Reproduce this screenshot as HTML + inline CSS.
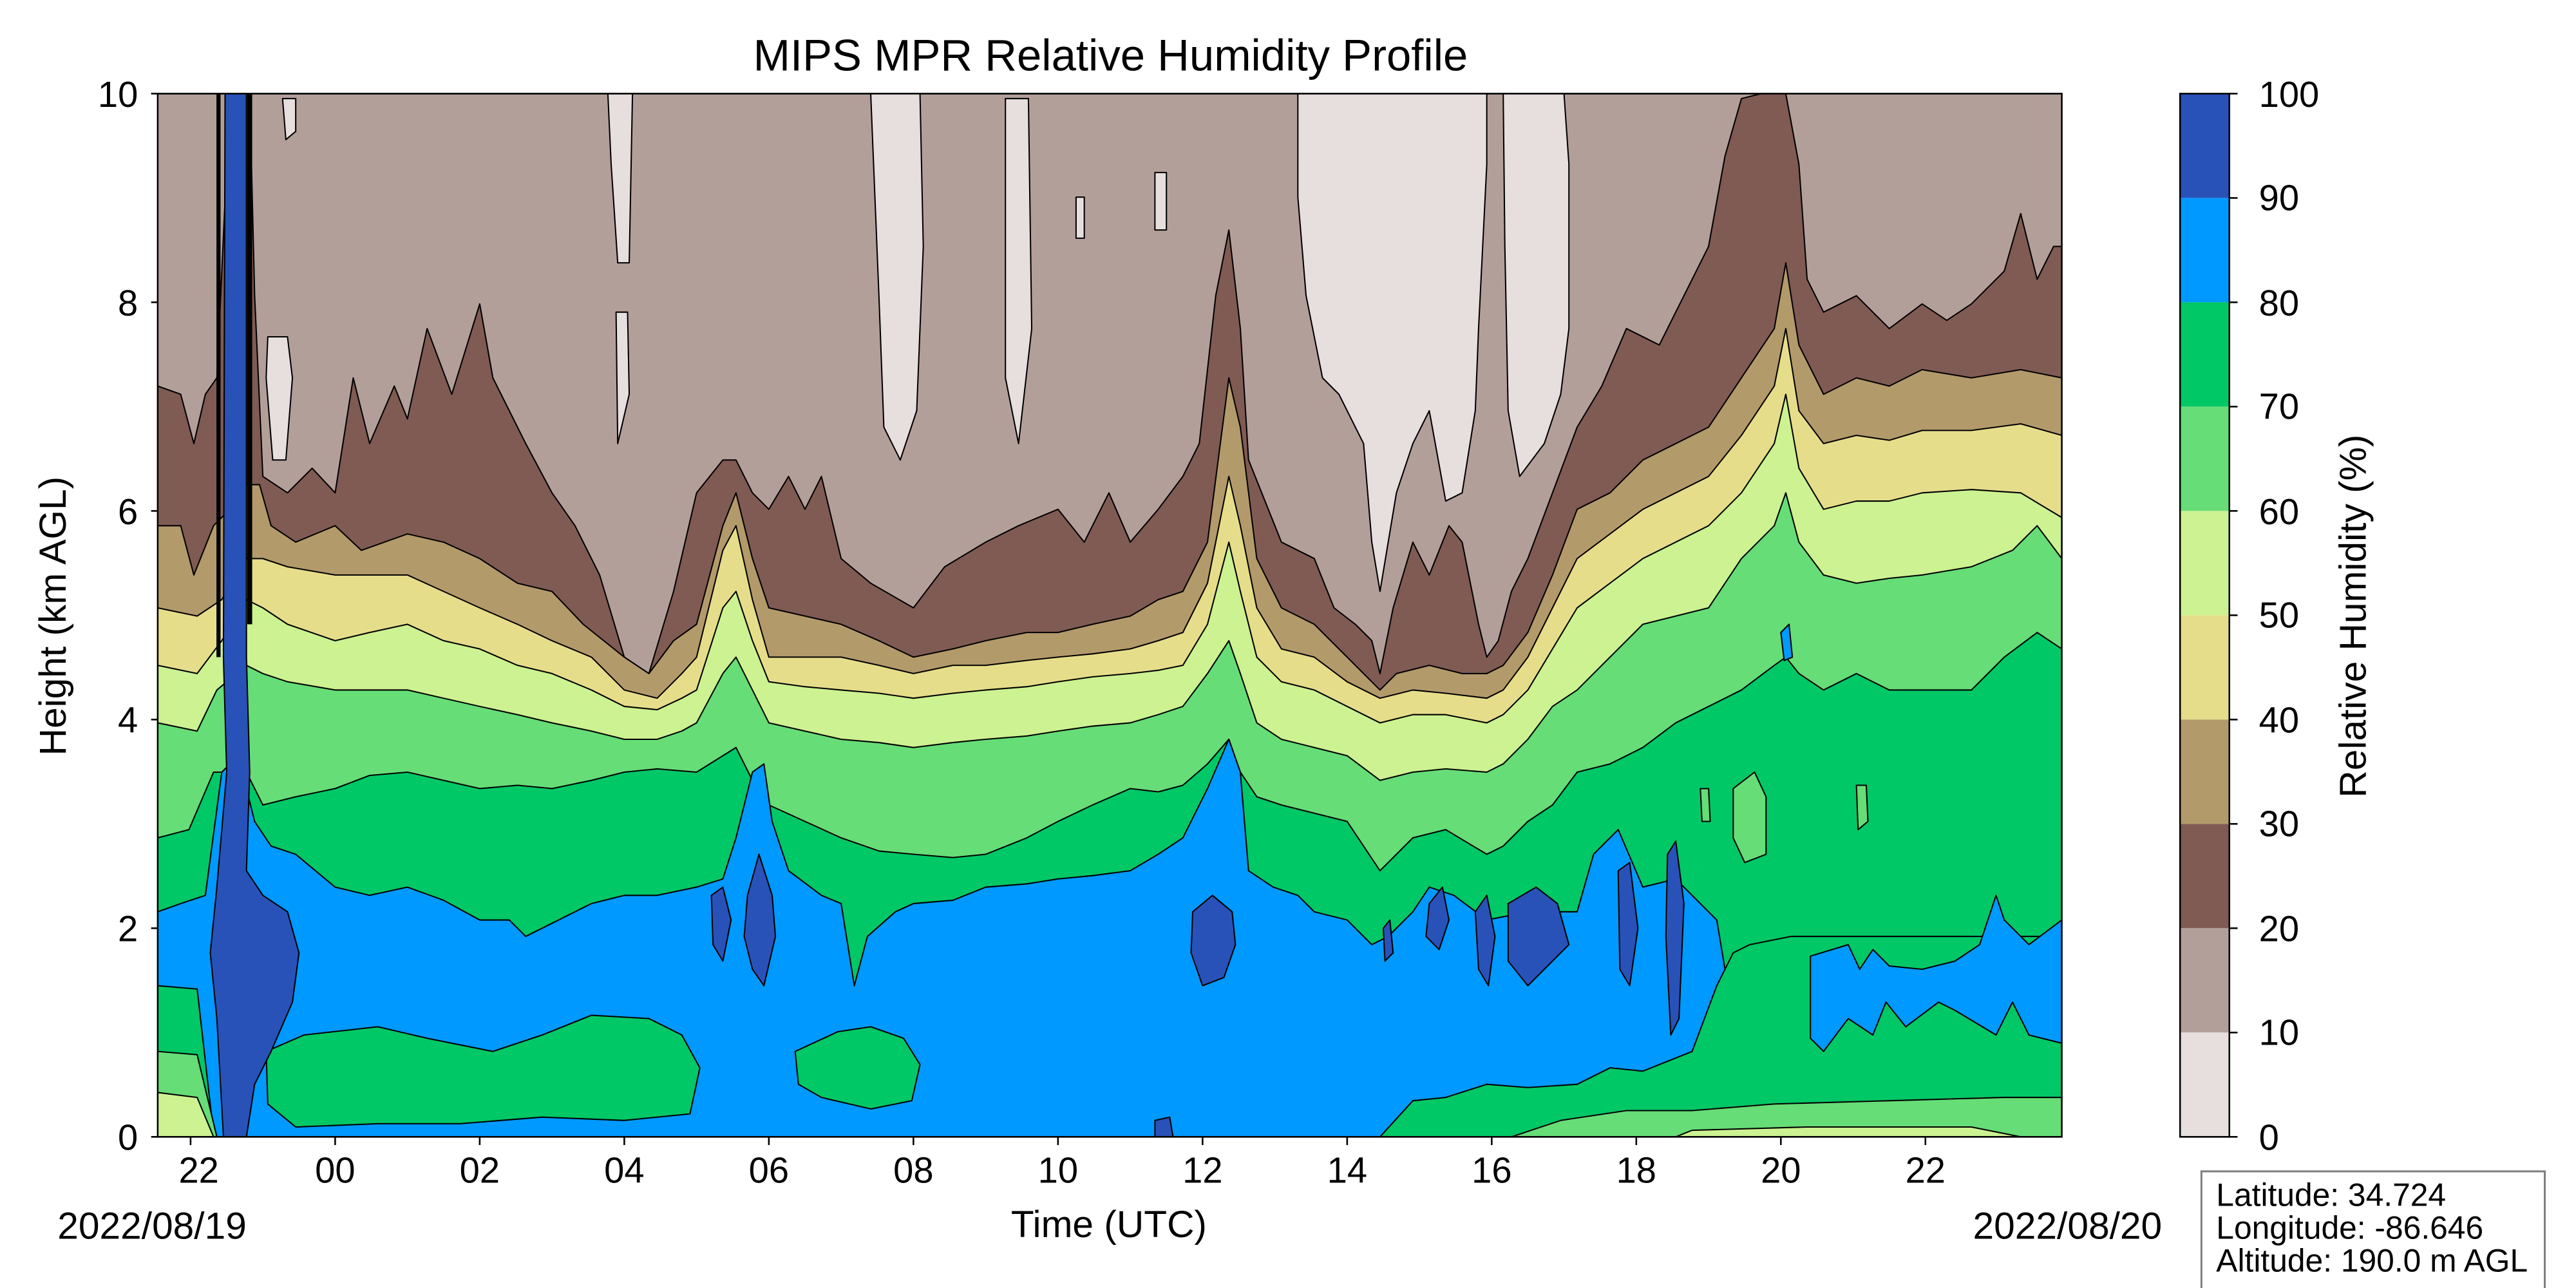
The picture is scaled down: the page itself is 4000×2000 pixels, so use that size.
<!DOCTYPE html>
<html><head><meta charset="utf-8"><style>
html,body{margin:0;padding:0;background:#fff}
svg{display:block}
text{font-family:"Liberation Sans","DejaVu Sans",sans-serif;fill:#000}
</style></head><body>
<svg width="4000" height="2000" viewBox="0 0 1568 784" xmlns="http://www.w3.org/2000/svg">
<defs><clipPath id="c"><rect x="96" y="57" width="1159" height="635"/></clipPath></defs>
<g clip-path="url(#c)" stroke="#000" stroke-width="0.8" stroke-linejoin="round">
<rect x="96" y="57" width="1159" height="635" fill="#b39f9a" stroke="none"/>
<polygon fill="#e6dfde" points="790,57 905,57 905,100 900,200 898,250 890,300 880,305 870,250 860,270 850,300 845,330 840,360 835,330 830,270 815,240 805,230 795,180 790,120"/>
<polygon fill="#e6dfde" points="915,57 952,57 955,100 955,200 950,240 940,270 925,290 918,250 916,150"/>
<polygon fill="#e6dfde" points="530,57 560,57 562,150 558,250 548,280 538,260 535,180"/>
<polygon fill="#e6dfde" points="612,60 626,60 628,200 620,270 612,230"/>
<polygon fill="#e6dfde" points="370,57 385,57 383,160 376,160 372,100"/>
<polygon fill="#e6dfde" points="163,205 175,205 178,230 174,280 166,280 162,230"/>
<polygon fill="#e6dfde" points="172,60 180,60 180,80 174,85"/>
<polygon fill="#e6dfde" points="655,120 660,120 660,145 655,145"/>
<polygon fill="#e6dfde" points="703,105 710,105 710,140 703,140"/>
<polygon fill="#e6dfde" points="375,190 382,190 383,240 376,270"/>
<polygon fill="#7f5b53" points="96,235 110,240 118,270 125,240 132,230 140,57 152,57 155,180 160,290 175,300 190,285 204,300 215,230 225,270 240,235 248,255 260,200 275,240 292,185 300,230 320,270 336,300 350,320 365,350 380,400 395,410 410,360 424,300 440,280 448,280 458,300 468,310 480,290 490,310 500,290 512,340 530,355 556,370 575,345 600,330 620,320 644,310 660,330 675,300 688,330 705,310 720,290 730,270 740,180 748,140 755,200 760,280 780,330 800,340 812,370 825,380 835,390 840,410 848,370 860,330 870,350 882,320 890,330 900,380 905,400 912,390 920,360 930,340 945,300 960,260 975,235 990,200 1010,210 1025,180 1040,150 1050,95 1060,60 1072,57 1080,57 1087,57 1095,100 1100,170 1110,190 1130,180 1150,200 1170,185 1185,195 1200,185 1220,165 1230,130 1240,170 1250,150 1255,150 1255,692 96,692"/>
<polygon fill="#b39a6a" points="96,320 110,320 118,350 130,320 140,310 150,295 158,295 165,320 180,330 204,320 220,335 248,325 270,330 292,340 315,355 336,360 355,380 380,400 395,410 410,390 424,380 440,320 448,300 458,340 468,370 490,375 512,380 535,390 556,400 580,395 600,390 625,385 644,385 665,380 688,375 705,365 720,360 735,330 748,230 755,260 765,340 780,370 800,380 820,400 835,415 840,420 850,410 870,405 890,410 905,410 915,405 930,385 945,350 960,310 980,300 1000,280 1020,270 1040,260 1060,230 1080,200 1087,160 1095,210 1110,240 1130,230 1150,235 1170,225 1200,230 1230,225 1255,230 1255,692 96,692"/>
<polygon fill="#e6dd8b" points="96,370 120,375 135,365 150,340 160,340 175,345 204,350 225,350 248,350 270,360 292,370 315,380 336,390 360,400 380,420 400,425 415,410 424,400 440,335 448,320 458,365 468,400 490,400 512,400 535,405 556,410 580,405 600,405 625,402 644,400 665,398 688,395 705,390 720,385 735,355 748,290 755,320 765,370 780,395 800,400 820,415 840,425 860,420 880,422 905,425 915,420 930,400 945,370 960,340 980,325 1000,310 1020,300 1040,290 1060,265 1080,235 1087,200 1095,250 1110,270 1130,265 1150,268 1170,262 1200,262 1230,258 1255,265 1255,692 96,692"/>
<polygon fill="#ccf291" points="96,405 120,410 135,390 150,365 160,370 175,380 204,390 225,385 248,380 270,390 292,395 315,405 336,410 360,420 380,430 400,432 415,425 424,420 440,370 448,360 458,390 468,415 490,418 512,420 535,422 556,425 580,422 600,420 625,418 644,415 665,412 688,410 705,408 720,405 735,380 748,330 755,360 765,400 780,415 800,420 820,430 840,440 860,435 880,435 905,440 915,435 930,420 945,395 960,370 980,355 1000,340 1020,330 1040,320 1060,300 1080,270 1087,240 1095,285 1110,310 1130,305 1150,305 1170,300 1200,298 1230,300 1255,315 1255,692 96,692"/>
<polygon fill="#66dd77" points="96,440 120,445 132,420 150,405 160,410 175,415 204,420 225,420 248,420 270,425 292,430 315,435 336,440 360,445 380,450 400,450 415,445 424,440 440,410 448,400 458,420 468,440 490,445 512,450 535,452 556,455 580,452 600,450 625,448 644,445 665,442 688,440 705,435 720,430 735,410 748,390 755,410 765,440 780,450 800,455 820,460 840,475 860,470 880,468 905,470 915,465 930,450 945,430 960,420 980,400 1000,380 1020,375 1040,370 1060,340 1080,320 1087,300 1095,330 1110,350 1130,355 1150,352 1170,350 1200,345 1225,335 1240,320 1255,340 1255,692 96,692"/>
<polygon fill="#00c866" points="96,510 115,505 130,470 150,470 160,490 180,485 204,480 225,472 248,470 270,475 292,480 315,478 336,480 360,475 380,470 400,468 424,470 440,460 448,455 458,475 468,490 490,500 512,510 535,518 556,520 580,522 600,520 625,510 644,500 665,490 688,480 705,482 720,478 735,465 748,450 755,470 765,485 780,490 800,495 820,500 840,530 860,510 880,505 905,520 915,515 930,500 945,490 960,470 980,465 1000,455 1020,440 1040,430 1060,420 1080,405 1087,400 1095,410 1110,420 1130,410 1150,420 1170,420 1200,420 1220,400 1240,385 1255,395 1255,692 96,692"/>
<polygon fill="#0099ff" points="96,555 110,550 125,545 135,470 145,460 155,500 165,515 180,520 204,540 225,545 248,540 270,548 292,560 310,560 320,570 336,562 360,550 380,545 400,545 424,540 440,535 448,510 458,470 465,465 470,500 480,530 500,545 512,550 520,600 528,570 545,555 556,550 580,548 600,540 625,538 644,535 665,533 688,530 705,520 720,510 735,480 748,450 755,470 760,530 775,540 790,545 800,555 820,560 835,575 845,570 860,555 870,540 885,545 905,560 930,555 960,555 970,520 985,505 1000,540 1020,535 1035,550 1045,560 1050,590 1050,692 96,692"/>
<polygon fill="#00c866" points="96,600 120,602 130,690 96,692"/>
<polygon fill="#66dd77" points="96,640 120,642 132,692 96,692"/>
<polygon fill="#ccf291" points="96,665 120,668 130,692 96,692"/>
<polygon fill="#00c866" points="162,640 185,630 230,625 260,632 300,640 330,630 360,618 395,620 415,630 426,650 420,678 380,682 330,680 280,684 230,684 180,686 163,672"/>
<polygon fill="#00c866" points="484,640 510,628 530,625 550,632 560,648 555,670 530,675 500,668 486,660"/>
<polygon fill="#00c866" points="840,692 860,670 880,668 905,660 930,662 960,660 980,650 1000,652 1030,640 1045,600 1055,580 1065,575 1090,570 1255,570 1255,692"/>
<polygon fill="#66dd77" points="920,692 950,682 990,676 1030,676 1080,672 1150,670 1220,668 1255,668 1255,692"/>
<polygon fill="#ccf291" points="1020,692 1030,688 1100,686 1200,686 1230,692"/>
<polygon fill="#0099ff" points="1102,582 1125,575 1132,590 1140,578 1150,588 1170,590 1190,585 1205,575 1215,545 1220,560 1235,575 1255,560 1255,635 1235,630 1225,610 1215,630 1190,615 1180,610 1160,625 1148,610 1140,630 1125,620 1110,640 1102,632"/>
<polygon fill="#66dd77" points="1055,480 1068,470 1075,485 1075,520 1062,525 1055,510"/>
<polygon fill="#66dd77" points="1035,480 1040,480 1041,500 1036,500"/>
<polygon fill="#66dd77" points="1130,478 1136,478 1137,500 1131,505"/>
<polygon fill="#2952b8" points="137,57 150,57 150,400 152,470 150,530 160,545 175,555 182,580 178,610 165,640 155,660 150,692 136,692 132,620 128,580 132,540 138,470 136,400"/>
<polygon fill="#2952b8" points="433,545 440,540 445,560 440,585 434,575"/>
<polygon fill="#2952b8" points="455,545 462,520 470,545 472,570 465,600 458,590 453,570"/>
<polygon fill="#2952b8" points="726,555 738,545 750,555 752,575 745,595 732,600 725,580"/>
<polygon fill="#2952b8" points="842,565 846,560 848,580 843,585"/>
<polygon fill="#2952b8" points="870,550 878,540 882,560 876,578 868,570"/>
<polygon fill="#2952b8" points="898,555 905,545 910,570 906,600 900,590"/>
<polygon fill="#2952b8" points="918,550 935,540 948,550 955,575 945,585 930,600 918,585"/>
<polygon fill="#2952b8" points="985,530 992,525 997,565 992,600 986,590"/>
<polygon fill="#2952b8" points="1015,520 1020,512 1025,550 1022,620 1017,630 1014,570"/>
<polygon fill="#2952b8" points="703,682 712,680 714,692 703,692"/>
<polygon fill="#0099ff" points="1084,385 1089,380 1091,400 1086,402"/>
<line x1="133" y1="57" x2="133" y2="400" stroke-width="2.5"/>
<line x1="152" y1="57" x2="152" y2="380" stroke-width="3"/>
</g>
<rect x="96" y="57" width="1159" height="635" fill="none" stroke="#000" stroke-width="1"/>
<g stroke="#000" stroke-width="1">
<line x1="92" y1="57" x2="96" y2="57"/><line x1="92" y1="184" x2="96" y2="184"/><line x1="92" y1="311" x2="96" y2="311"/><line x1="92" y1="438" x2="96" y2="438"/><line x1="92" y1="565" x2="96" y2="565"/><line x1="92" y1="692" x2="96" y2="692"/>
<line x1="116" y1="692" x2="116" y2="697"/><line x1="204" y1="692" x2="204" y2="697"/><line x1="292" y1="692" x2="292" y2="697"/><line x1="380" y1="692" x2="380" y2="697"/><line x1="468" y1="692" x2="468" y2="697"/><line x1="556" y1="692" x2="556" y2="697"/><line x1="644" y1="692" x2="644" y2="697"/><line x1="732" y1="692" x2="732" y2="697"/><line x1="820" y1="692" x2="820" y2="697"/><line x1="908" y1="692" x2="908" y2="697"/><line x1="996" y1="692" x2="996" y2="697"/><line x1="1084" y1="692" x2="1084" y2="697"/><line x1="1172" y1="692" x2="1172" y2="697"/>
</g>
<g font-size="22" text-anchor="end">
<text x="84" y="65">10</text><text x="84" y="192">8</text><text x="84" y="319">6</text><text x="84" y="446">4</text><text x="84" y="573">2</text><text x="84" y="700">0</text>
</g>
<g font-size="22" text-anchor="middle">
<text x="121" y="720">22</text><text x="204" y="720">00</text><text x="292" y="720">02</text><text x="380" y="720">04</text><text x="468" y="720">06</text><text x="556" y="720">08</text><text x="644" y="720">10</text><text x="732" y="720">12</text><text x="820" y="720">14</text><text x="908" y="720">16</text><text x="996" y="720">18</text><text x="1084" y="720">20</text><text x="1172" y="720">22</text>
<text x="675" y="753" font-size="23">Time (UTC)</text>
<text x="676" y="43" font-size="27">MIPS MPR Relative Humidity Profile</text>
<text transform="translate(40,375) rotate(-90)" font-size="23">Height (km AGL)</text>
<text transform="translate(1440,375) rotate(-90)" font-size="23">Relative Humidity (%)</text>
</g>
<text x="35" y="754" font-size="23" text-anchor="start">2022/08/19</text>
<text x="1316" y="754" font-size="23" text-anchor="end">2022/08/20</text>
<g>
<rect x="1327" y="57" width="30" height="63.5" fill="#2952b8"/>
<rect x="1327" y="120.5" width="30" height="63.5" fill="#0099ff"/>
<rect x="1327" y="184" width="30" height="63.5" fill="#00c866"/>
<rect x="1327" y="247.5" width="30" height="63.5" fill="#66dd77"/>
<rect x="1327" y="311" width="30" height="63.5" fill="#ccf291"/>
<rect x="1327" y="374.5" width="30" height="63.5" fill="#e6dd8b"/>
<rect x="1327" y="438" width="30" height="63.5" fill="#b39a6a"/>
<rect x="1327" y="501.5" width="30" height="63.5" fill="#7f5b53"/>
<rect x="1327" y="565" width="30" height="63.5" fill="#b39f9a"/>
<rect x="1327" y="628.5" width="30" height="63.5" fill="#e6dfde"/>
<rect x="1327" y="57" width="30" height="635" fill="none" stroke="#000" stroke-width="1"/>
<g stroke="#000" stroke-width="1">
<line x1="1357" y1="57" x2="1362" y2="57"/><line x1="1357" y1="120.5" x2="1362" y2="120.5"/><line x1="1357" y1="184" x2="1362" y2="184"/><line x1="1357" y1="247.5" x2="1362" y2="247.5"/><line x1="1357" y1="311" x2="1362" y2="311"/><line x1="1357" y1="374.5" x2="1362" y2="374.5"/><line x1="1357" y1="438" x2="1362" y2="438"/><line x1="1357" y1="501.5" x2="1362" y2="501.5"/><line x1="1357" y1="565" x2="1362" y2="565"/><line x1="1357" y1="628.5" x2="1362" y2="628.5"/><line x1="1357" y1="692" x2="1362" y2="692"/>
</g>
<g font-size="22">
<text x="1375" y="65">100</text><text x="1375" y="128">90</text><text x="1375" y="192">80</text><text x="1375" y="255">70</text><text x="1375" y="319">60</text><text x="1375" y="382">50</text><text x="1375" y="446">40</text><text x="1375" y="509">30</text><text x="1375" y="573">20</text><text x="1375" y="636">10</text><text x="1375" y="700">0</text>
</g>
</g>
<rect x="1340" y="713" width="209" height="75" fill="#fff" stroke="#808080" stroke-width="1.2"/>
<g font-size="19.5">
<text x="1349" y="734">Latitude: 34.724</text>
<text x="1349" y="754">Longitude: -86.646</text>
<text x="1349" y="774">Altitude: 190.0 m AGL</text>
</g>
</svg>
</body></html>
